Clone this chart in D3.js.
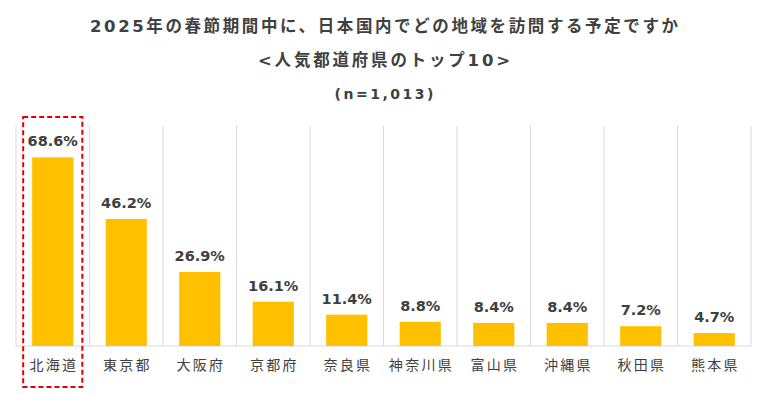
<!DOCTYPE html>
<html>
<head>
<meta charset="utf-8">
<script src="https://cdn.jsdelivr.net/npm/d3@7"></script>
<style>
  body { margin: 0; background: #fff; }
  text { font-family: "DejaVu Sans", "Noto Sans CJK JP", sans-serif; fill: #404040; }
</style>
</head>
<body>
<div class="graph"></div>
<script>
// data
var prefectures = ["北海道", "東京都", "大阪府", "京都府", "奈良県", "神奈川県", "富山県", "沖縄県", "秋田県", "熊本県"];
var shares = [68.6, 46.2, 26.9, 16.1, 11.4, 8.8, 8.4, 8.4, 7.2, 4.7];
var titleLines = ["2025年の春節期間中に、日本国内でどの地域を訪問する予定ですか", "<人気都道府県のトップ10>", "(n=1,013)"];

var W = 768, H = 394;
var margin = {top: 126, right: 17, bottom: 48, left: 16};
var width = W - margin.left - margin.right;
var height = H - margin.top - margin.bottom;

var svg = d3.select(".graph").append("svg")
    .attr("width", W)
    .attr("height", H);

// titles (letter-spacing adds trailing space, so shift by half of it)
var spacing = [2.6, 2.8, 2.5];
svg.selectAll(".title").data(titleLines).enter().append("text")
    .attr("class", "title")
    .attr("x", function(d, i) { return W / 2 + spacing[i] / 2; })
    .attr("y", function(d, i) { return [32, 66, 99][i]; })
    .attr("text-anchor", "middle")
    .attr("font-size", function(d, i) { return i == 2 ? "14px" : "16.5px"; })
    .attr("font-weight", "bold")
    .attr("letter-spacing", function(d, i) { return spacing[i] + "px"; })
    .text(function(d) { return d; });

var g = svg.append("g")
    .attr("transform", "translate(" + margin.left + "," + margin.top + ")");

var x = d3.scaleBand()
    .domain(prefectures)
    .range([0, width])
    .paddingInner(0.44)
    .paddingOuter(0.22);

var y = d3.scaleLinear().domain([0, 80]).range([height, 0]);

// vertical separators between categories
var bounds = d3.range(prefectures.length + 1).map(function(i) { return i * width / prefectures.length; });
g.selectAll(".sep").data(bounds).enter().append("line")
    .attr("class", "sep")
    .attr("x1", function(d) { return d; })
    .attr("x2", function(d) { return d; })
    .attr("y1", 0)
    .attr("y2", height)
    .attr("stroke", "#d9d9d9")
    .attr("stroke-width", 1);

// baseline
g.append("line")
    .attr("x1", 0).attr("x2", width)
    .attr("y1", height).attr("y2", height)
    .attr("stroke", "#d9d9d9");

// bars
g.selectAll(".bar").data(shares).enter().append("rect")
    .attr("class", "bar")
    .attr("x", function(d, i) { return x(prefectures[i]); })
    .attr("y", function(d) { return y(d); })
    .attr("width", x.bandwidth())
    .attr("height", function(d) { return height - y(d); })
    .attr("fill", "#ffc000");

// value labels
g.selectAll(".val").data(shares).enter().append("text")
    .attr("class", "val")
    .attr("x", function(d, i) { return x(prefectures[i]) + x.bandwidth() / 2; })
    .attr("y", function(d) { return y(d) - 11; })
    .attr("text-anchor", "middle")
    .attr("font-size", "14.5px")
    .attr("font-weight", "bold")
    .text(function(d) { return d.toFixed(1) + "%"; });

// category labels
var xAxis = d3.axisBottom(x).tickSize(0).tickPadding(14);
var ax = g.append("g")
    .attr("transform", "translate(0," + height + ")")
    .call(xAxis);
ax.select(".domain").remove();
ax.selectAll("text")
    .attr("font-size", "14px")
    .attr("font-family", "\"Noto Sans CJK JP\", sans-serif")
    .attr("letter-spacing", "2.3px")
    .attr("dx", "1.2px")
    .attr("fill", "#404040");

// red dashed highlight around the top prefecture
var bx = x(prefectures[0]);
g.append("rect")
    .attr("x", bx - 9)
    .attr("y", -9)
    .attr("width", x.bandwidth() + 18)
    .attr("height", height + 50)
    .attr("fill", "none")
    .attr("stroke", "#e00000")
    .attr("stroke-width", 2)
    .attr("stroke-dasharray", "5,3");
</script>
</body>
</html>
